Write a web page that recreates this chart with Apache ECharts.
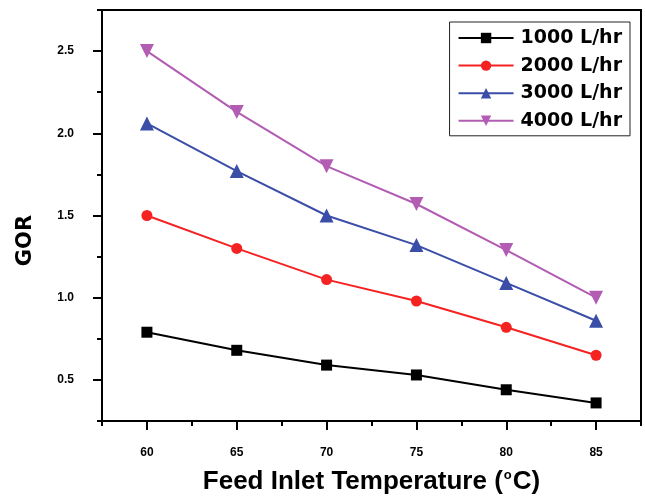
<!DOCTYPE html>
<html><head><meta charset="utf-8">
<script src="https://cdn.jsdelivr.net/npm/echarts@6/dist/echarts.min.js"></script>
<style>html,body{margin:0;padding:0;background:#fff}#c{width:645px;height:497px}</style>
</head><body><div id="c"></div>
<script>
const temps = [60, 65, 70, 75, 80, 85];
const seriesNames = ['1000 L/hr', '2000 L/hr', '3000 L/hr', '4000 L/hr'];
const gor1000 = [0.79, 0.68, 0.59, 0.53, 0.44, 0.36];
const gor2000 = [1.50, 1.30, 1.11, 0.98, 0.82, 0.65];
const gor3000 = [2.06, 1.77, 1.50, 1.32, 1.09, 0.86];
const gor4000 = [2.50, 2.13, 1.80, 1.57, 1.29, 1.00];
const xMajorTicks = [60, 65, 70, 75, 80, 85];
const xMinorTicks = [57.5, 62.5, 67.5, 72.5, 77.5, 82.5, 87.5];
const yMajorTicks = [0.5, 1.0, 1.5, 2.0, 2.5];
const yMinorTicks = [0.25, 0.75, 1.25, 1.75, 2.25, 2.75];

const colors = ['#000000', '#f52222', '#3a4ea8', '#b25cb4'];
const symbols = ['rect', 'circle', 'triangle', 'path://M0,0 L10,0 L5,9 Z'];
const data = [gor1000, gor2000, gor3000, gor4000];
const font = 'Liberation Sans, Arial, sans-serif';
const wide = 'DejaVu Sans, sans-serif';

const chart = echarts.init(document.getElementById('c'), null, {renderer: 'canvas'});
const axisLine = {show: true, lineStyle: {color: '#000', width: 2}};
chart.setOption({
  animation: false,
  backgroundColor: '#fff',
  grid: {left: 102, right: 4, top: 10, bottom: 76, show: true, borderColor: '#000', borderWidth: 2,
    containLabel: false, outerBoundsMode: 'none'},
  legend: {
    orient: 'vertical', right: 15, top: 22,
    data: seriesNames,
    itemWidth: 55, itemHeight: 13, itemGap: 7.6,
    padding: [6, 8, 5, 8],
    borderColor: '#222', borderWidth: 1,
    textStyle: {fontFamily: wide, fontWeight: 'bold', fontSize: 19, lineHeight: 20, color: '#000', padding: [0, 0, 0, 2]}
  },
  xAxis: [{
    type: 'value', min: 57.5, max: 87.5,
    name: 'Feed Inlet Temperature ({sup|o}C)', nameLocation: 'middle', nameGap: 48,
    nameTextStyle: {fontFamily: font, fontWeight: 'bold', fontSize: 26, color: '#000',
      rich: {sup: {fontFamily: font, fontWeight: 'bold', fontSize: 13, verticalAlign: 'top', padding: [0, 1, 12, 1]}}},
    axisLine: axisLine,
    axisTick: {show: true, length: 9, lineStyle: {color: '#000', width: 2}, customValues: xMajorTicks},
    axisLabel: {customValues: xMajorTicks, margin: 26, fontFamily: font, fontWeight: 'bold', fontSize: 12, color: '#000'},
    splitLine: {show: false}
  }, {
    type: 'value', min: 57.5, max: 87.5, position: 'bottom',
    axisLine: {show: false},
    axisTick: {show: true, length: 5, lineStyle: {color: '#000', width: 2}, customValues: xMinorTicks},
    axisLabel: {show: false}, splitLine: {show: false}
  }],
  yAxis: [{
    type: 'value', min: 0.25, max: 2.75,
    name: 'GOR', nameLocation: 'middle', nameGap: 66, nameRotate: 90,
    nameTextStyle: {fontFamily: wide, fontWeight: 'bold', fontSize: 21, color: '#000', padding: [0, 50, 0, 0]},
    axisLine: axisLine,
    axisTick: {show: true, length: 9, lineStyle: {color: '#000', width: 2}, customValues: yMajorTicks},
    axisLabel: {customValues: yMajorTicks, margin: 28, fontFamily: font, fontWeight: 'bold', fontSize: 12, color: '#000',
      formatter: v => v.toFixed(1)},
    splitLine: {show: false}
  }, {
    type: 'value', min: 0.25, max: 2.75, position: 'left',
    axisLine: {show: false},
    axisTick: {show: true, length: 5, lineStyle: {color: '#000', width: 2}, customValues: yMinorTicks},
    axisLabel: {show: false}, splitLine: {show: false}
  }],
  series: seriesNames.map((n, i) => ({
    name: n, type: 'line',
    xAxisIndex: 0, yAxisIndex: 0,
    data: temps.map((t, j) => [t, data[i][j]]),
    symbol: symbols[i], symbolSize: i === 0 ? 11 : (i === 1 ? 11 : 14),
    itemStyle: {color: colors[i]},
    lineStyle: {color: colors[i], width: 2}
  }))
});
</script></body></html>
